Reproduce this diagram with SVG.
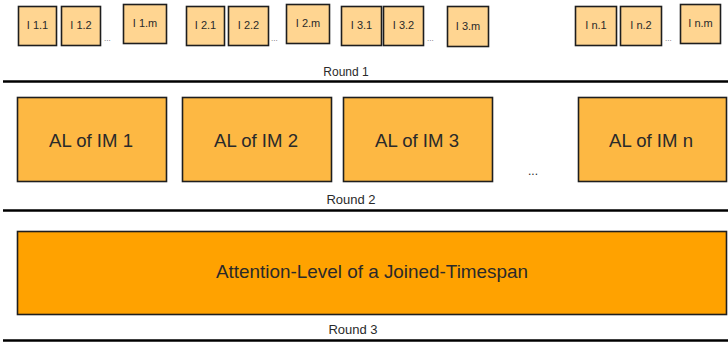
<svg xmlns="http://www.w3.org/2000/svg" width="728" height="342" viewBox="0 0 728 342">
<style>
  .sm { fill: #FFD591; stroke: #1e1e1e; stroke-width: 1.6; }
  .al { fill: #FDB843; stroke: #1e1e1e; stroke-width: 1.6; }
  .jt { fill: #FFA200; stroke: #1e1e1e; stroke-width: 1.6; }
  .t { font-family: "Liberation Sans", Arial, sans-serif; fill: #2a2a2a; text-anchor: middle; }
  .ts { font-size: 11px; }
  .tal { font-size: 19px; }
  .tr { font-size: 12px; }
  .dots { font-family: "Liberation Sans", Arial, sans-serif; font-size: 8px; fill: #666; }
  .sep { stroke: #000; stroke-width: 2.5; }
</style>
<rect width="728" height="342" fill="#fff"/>

<g id="round1">
  <g id="i1-1"><rect class="sm" x="18.5" y="6.5" width="38" height="39"/><text class="t ts" x="37.5" y="29">I 1.1</text></g>
  <g id="i1-2"><rect class="sm" x="61.5" y="6.5" width="39" height="39"/><text class="t ts" x="81" y="29">I 1.2</text></g>
  <text class="dots" x="104" y="41">...</text>
  <g id="i1-m"><rect class="sm" x="123.5" y="4.5" width="43" height="39"/><text class="t ts" x="145" y="27">I 1.m</text></g>

  <g id="i2-1"><rect class="sm" x="186.5" y="6.5" width="38" height="39"/><text class="t ts" x="205.5" y="29">I 2.1</text></g>
  <g id="i2-2"><rect class="sm" x="228.5" y="6.5" width="40" height="39"/><text class="t ts" x="248.5" y="29">I 2.2</text></g>
  <text class="dots" x="271" y="41">...</text>
  <g id="i2-m"><rect class="sm" x="286.5" y="4.5" width="43" height="39"/><text class="t ts" x="308" y="27">I 2.m</text></g>

  <g id="i3-1"><rect class="sm" x="341.5" y="6.5" width="40" height="39"/><text class="t ts" x="361.5" y="29">I 3.1</text></g>
  <g id="i3-2"><rect class="sm" x="383.5" y="6.5" width="40" height="39"/><text class="t ts" x="403.5" y="29">I 3.2</text></g>
  <text class="dots" x="427" y="41">...</text>
  <g id="i3-m"><rect class="sm" x="447.5" y="6.5" width="41" height="40"/><text class="t ts" x="468" y="30">I 3.m</text></g>

  <g id="in-1"><rect class="sm" x="575.5" y="6.5" width="41" height="39"/><text class="t ts" x="596" y="29">I n.1</text></g>
  <g id="in-2"><rect class="sm" x="620.5" y="6.5" width="41" height="39"/><text class="t ts" x="641" y="29">I n.2</text></g>
  <text class="dots" x="665" y="41">...</text>
  <g id="in-m"><rect class="sm" x="680.5" y="4.5" width="40" height="39"/><text class="t ts" x="700.5" y="27">I n.m</text></g>

  <text class="t tr" x="346" y="76">Round 1</text>
</g>

<g id="round2">
  <g id="al1"><rect class="al" x="17.5" y="97.5" width="149" height="84"/><text class="t tal" x="91" y="147" textLength="84" lengthAdjust="spacingAndGlyphs">AL of IM 1</text></g>
  <g id="al2"><rect class="al" x="182.5" y="97.5" width="149" height="84"/><text class="t tal" x="256" y="147" textLength="84" lengthAdjust="spacingAndGlyphs">AL of IM 2</text></g>
  <g id="al3"><rect class="al" x="343.5" y="97.5" width="149" height="84"/><text class="t tal" x="417" y="147" textLength="84" lengthAdjust="spacingAndGlyphs">AL of IM 3</text></g>
  <text class="t" style="font-size:12px" x="533" y="175">...</text>
  <g id="aln"><rect class="al" x="578.5" y="97.5" width="148" height="84"/><text class="t tal" x="651" y="147" textLength="84" lengthAdjust="spacingAndGlyphs">AL of IM n</text></g>
  <text class="t" style="font-size:13px" x="351" y="204">Round 2</text>
</g>

<g id="round3">
  <g id="joined"><rect class="jt" x="17.5" y="231.5" width="709" height="83"/><text class="t" style="font-size:19px" x="372" y="278" textLength="312" lengthAdjust="spacingAndGlyphs">Attention-Level of a Joined-Timespan</text></g>
  <text class="t" style="font-size:13px" x="353" y="334">Round 3</text>
</g>

<g id="dividers">
  <line class="sep" x1="3" y1="81.5" x2="728" y2="81.5"/>
  <line class="sep" x1="3" y1="210.5" x2="728" y2="210.5"/>
  <line class="sep" x1="3" y1="340.5" x2="728" y2="340.5"/>
</g>
</svg>
